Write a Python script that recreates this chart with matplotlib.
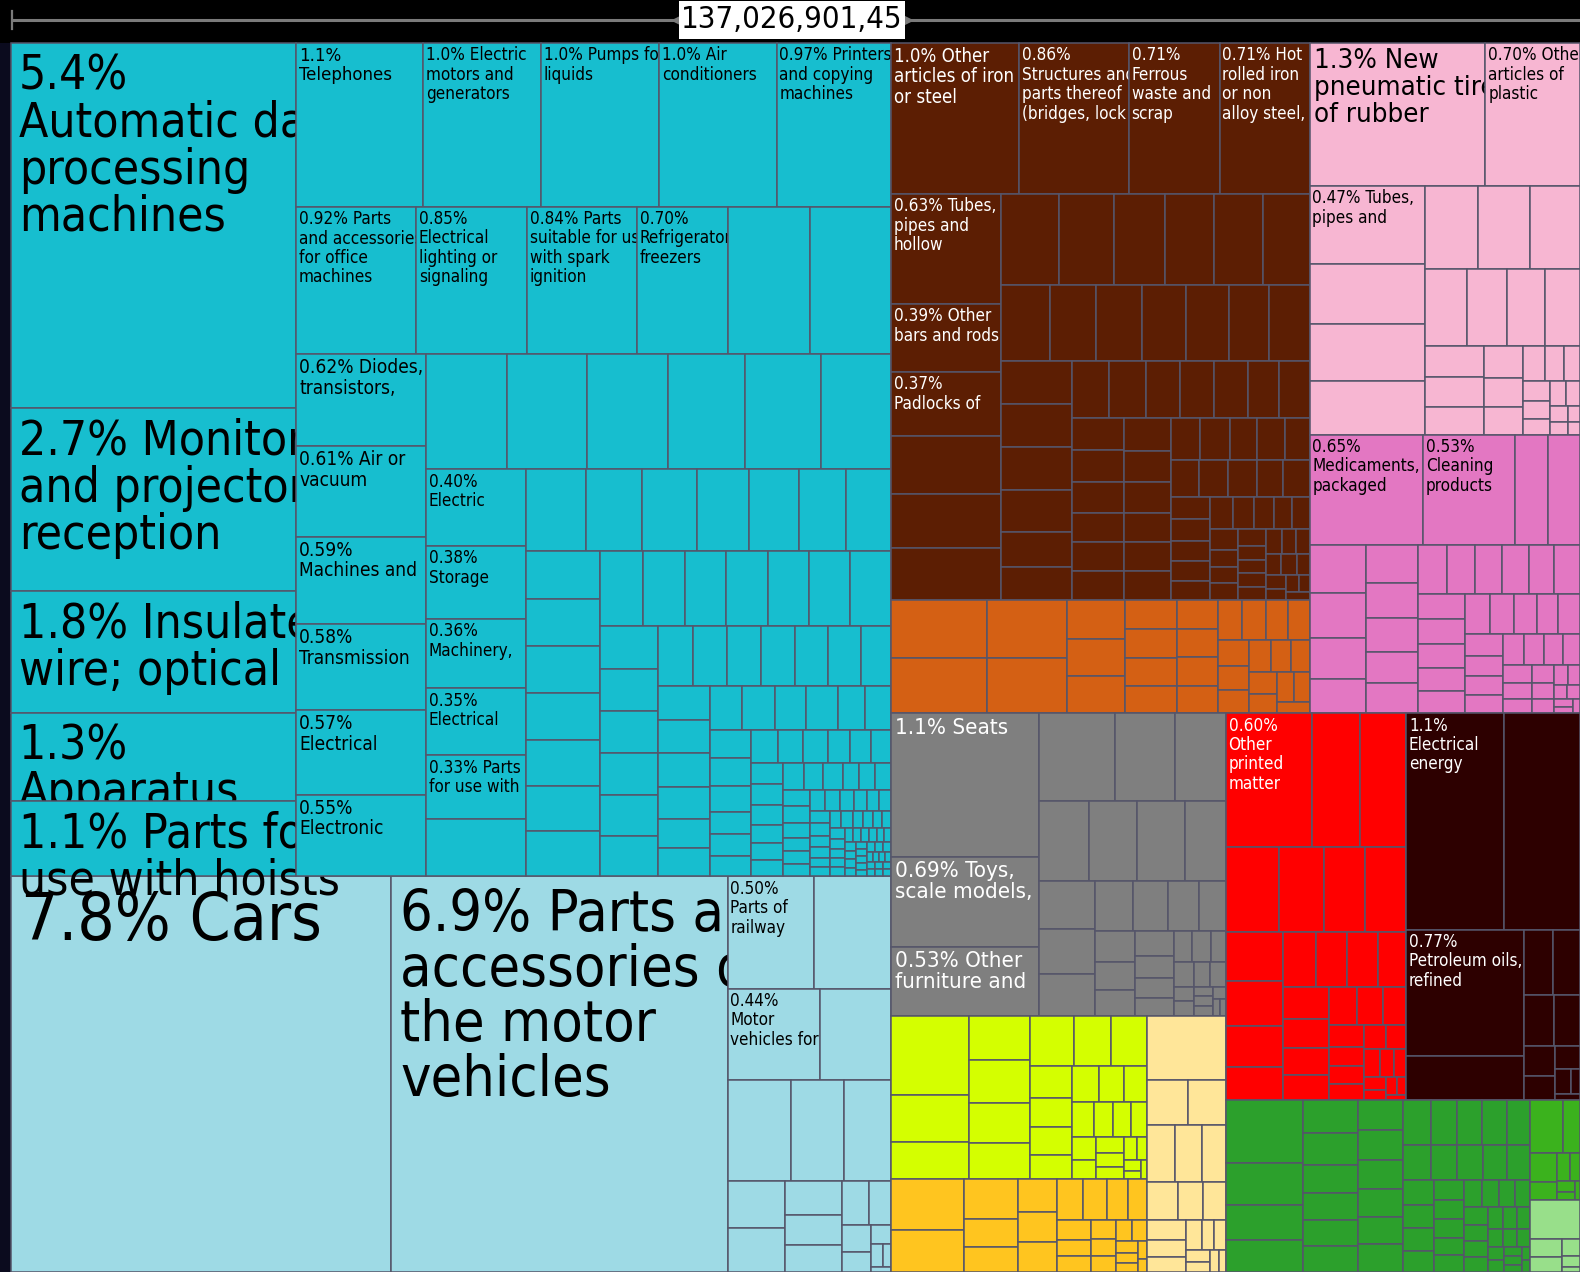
import matplotlib
matplotlib.use("Agg")
import matplotlib.pyplot as plt
from matplotlib.patches import Rectangle

TOTAL_LABEL = "137,026,901,45"

# shares of total exports (%), labelled products first, then the small unlabelled ones
machinery_values = [5.4, 2.7, 1.8, 1.3, 1.12, 1.08, 1.0, 1.0, 1.0, 0.97,
                    0.92, 0.85, 0.84, 0.70, 0.625, 0.622,
                    0.62, 0.61, 0.59, 0.58, 0.57, 0.55,
                    0.48, 0.48, 0.48, 0.46, 0.45, 0.42,
                    0.40, 0.38, 0.36, 0.35, 0.33, 0.30]
machinery_names = ["5.4%\nAutomatic data\nprocessing\nmachines",
                   "2.7% Monitors\nand projectors\nreception",
                   "1.8% Insulated\nwire; optical",
                   "1.3%\nApparatus",
                   "1.1% Parts for\nuse with hoists",
                   "1.1%\nTelephones",
                   "1.0% Electric\nmotors and\ngenerators",
                   "1.0% Pumps for\nliquids",
                   "1.0% Air\nconditioners",
                   "0.97% Printers\nand copying\nmachines",
                   "0.92% Parts\nand accessories\nfor office\nmachines",
                   "0.85%\nElectrical\nlighting or\nsignaling",
                   "0.84% Parts\nsuitable for use\nwith spark\nignition",
                   "0.70%\nRefrigerators,\nfreezers",
                   "", "",
                   "0.62% Diodes,\ntransistors,",
                   "0.61% Air or\nvacuum",
                   "0.59%\nMachines and",
                   "0.58%\nTransmission",
                   "0.57%\nElectrical",
                   "0.55%\nElectronic",
                   "", "", "", "", "", "",
                   "0.40%\nElectric",
                   "0.38%\nStorage",
                   "0.36%\nMachinery,",
                   "0.35%\nElectrical",
                   "0.33% Parts\nfor use with",
                   ""]
machinery_rest = [0.25, 0.24, 0.23, 0.22, 0.21, 0.20, 0.19,
                  0.185, 0.18, 0.18, 0.178, 0.176, 0.175, 0.173,
                  0.166, 0.165, 0.164, 0.163, 0.162, 0.161, 0.16,
                  0.128, 0.127, 0.126, 0.125, 0.124, 0.12,
                  0.108, 0.106, 0.105, 0.104, 0.103, 0.102,
                  0.092, 0.091, 0.09, 0.089, 0.088,
                  0.077, 0.076, 0.075, 0.074, 0.073, 0.072,
                  0.062, 0.061, 0.06, 0.059, 0.058,
                  0.047, 0.046, 0.045, 0.045, 0.044, 0.043,
                  0.036, 0.036, 0.035, 0.035, 0.034, 0.034,
                  0.029, 0.028, 0.028, 0.028, 0.027, 0.027,
                  0.023, 0.022, 0.022, 0.022, 0.022, 0.021,
                  0.018, 0.017, 0.017, 0.017, 0.016, 0.016,
                  0.014, 0.013, 0.013, 0.013, 0.013, 0.012,
                  0.011, 0.010, 0.010, 0.010, 0.010, 0.009,
                  0.009, 0.008, 0.008, 0.008, 0.008, 0.007,
                  0.007, 0.007, 0.006, 0.006, 0.006, 0.006,
                  0.005, 0.005, 0.005, 0.005, 0.005, 0.005,
                  0.004, 0.004, 0.004, 0.004, 0.004, 0.004, 0.004, 0.004,
                  0.003, 0.003, 0.003, 0.003, 0.003, 0.003, 0.003, 0.003, 0.003, 0.003]

transport_values = [7.8, 6.9, 0.50, 0.45, 0.44]
transport_names = ["7.8% Cars",
                   "6.9% Parts and\naccessories of\nthe motor\nvehicles",
                   "0.50%\nParts of\nrailway",
                   "",
                   "0.44%\nMotor\nvehicles for"]
transport_rest = [0.335, 0.33, 0.28, 0.245, 0.14, 0.13, 0.10, 0.09, 0.08,
                  0.06, 0.05, 0.04, 0.03, 0.02, 0.015, 0.01, 0.005]

metals_values = [1.0, 0.86, 0.71, 0.705, 0.63, 0.39, 0.37]
metals_names = ["1.0% Other\narticles of iron\nor steel",
                "0.86%\nStructures and\nparts thereof\n(bridges, lock",
                "0.71%\nFerrous\nwaste and\nscrap",
                "0.71% Hot\nrolled iron\nor non\nalloy steel,",
                "0.63% Tubes,\npipes and\nhollow",
                "0.39% Other\nbars and rods",
                "0.37%\nPadlocks of"]
metals_rest = [0.33, 0.31, 0.30,
               0.27, 0.26, 0.24, 0.23, 0.23, 0.22,
               0.19, 0.185, 0.18, 0.175, 0.17, 0.16,
               0.16, 0.158, 0.156, 0.154, 0.152,
               0.13, 0.12, 0.11, 0.11, 0.10, 0.10, 0.10,
               0.09, 0.09, 0.09, 0.085, 0.085, 0.08, 0.08, 0.08, 0.08,
               0.075, 0.075, 0.07, 0.07, 0.07, 0.065, 0.065,
               0.06, 0.06, 0.055, 0.055, 0.055, 0.055, 0.05, 0.05,
               0.045, 0.045, 0.04, 0.04, 0.04, 0.04, 0.035, 0.035,
               0.03, 0.03, 0.03, 0.025, 0.025, 0.025, 0.025, 0.02, 0.02, 0.02,
               0.02, 0.02, 0.018, 0.018, 0.016, 0.016, 0.014, 0.014,
               0.012, 0.012, 0.01, 0.01]

stone_values = []
stone_names = []
stone_rest = [0.285, 0.275, 0.24, 0.23, 0.115, 0.113, 0.112,
              0.078, 0.077, 0.076, 0.075, 0.06, 0.059, 0.059, 0.058,
              0.05, 0.048, 0.046, 0.044, 0.042, 0.04, 0.038, 0.036,
              0.034, 0.032, 0.03, 0.028, 0.026, 0.024, 0.02]

plastics_values = [1.3, 0.70, 0.47]
plastics_names = ["1.3% New\npneumatic tires\nof rubber",
                  "0.70% Other\narticles of\nplastic",
                  "0.47% Tubes,\npipes and"]
plastics_rest = [0.36, 0.34, 0.32, 0.23, 0.225, 0.215, 0.165, 0.16, 0.15, 0.14,
                 0.095, 0.09, 0.085, 0.065, 0.06, 0.055, 0.04, 0.035, 0.03,
                 0.028, 0.025, 0.022, 0.02, 0.018, 0.015, 0.012, 0.01, 0.008]

chemicals_values = [0.65, 0.53]
chemicals_names = ["0.65%\nMedicaments,\npackaged",
                   "0.53%\nCleaning\nproducts"]
chemicals_rest = [0.185, 0.185, 0.14, 0.13, 0.12, 0.10, 0.1, 0.095, 0.09, 0.085,
                  0.08, 0.075, 0.07, 0.07, 0.068, 0.065, 0.065, 0.062, 0.06,
                  0.06, 0.055, 0.055, 0.052, 0.05, 0.048, 0.045, 0.045,
                  0.042, 0.04, 0.038, 0.036, 0.034, 0.032, 0.03, 0.028, 0.026,
                  0.024, 0.022, 0.02, 0.018, 0.016, 0.014, 0.012, 0.01, 0.01,
                  0.008, 0.006, 0.005]

misc_values = [1.1, 0.69, 0.53]
misc_names = ["1.1% Seats",
              "0.69% Toys,\nscale models,",
              "0.53% Other\nfurniture and"]
misc_rest = [0.343, 0.275, 0.229, 0.21, 0.2, 0.2, 0.17, 0.14, 0.13, 0.12,
             0.1, 0.09, 0.08, 0.07, 0.065, 0.06, 0.055, 0.05, 0.045, 0.04,
             0.035, 0.03, 0.03, 0.025, 0.025, 0.02, 0.02, 0.015, 0.015,
             0.01, 0.01, 0.01, 0.008, 0.006, 0.005]

textiles_values = []
textiles_names = []
textiles_rest = [0.32, 0.19, 0.15, 0.14, 0.135, 0.125, 0.115, 0.115, 0.097,
                 0.094, 0.07, 0.065, 0.06, 0.055, 0.05, 0.046, 0.042, 0.04,
                 0.036, 0.032, 0.03, 0.028, 0.025, 0.022, 0.02, 0.018, 0.015,
                 0.012, 0.01, 0.008, 0.006]

footwear_values = []
footwear_names = []
footwear_rest = [0.19, 0.16, 0.11, 0.08, 0.07, 0.065, 0.06, 0.06, 0.055, 0.05,
                 0.045, 0.04, 0.035, 0.03, 0.028, 0.025, 0.022, 0.02, 0.018,
                 0.016, 0.014, 0.012, 0.01, 0.008, 0.006]

hides_values = []
hides_names = []
hides_rest = [0.26, 0.097, 0.088, 0.083, 0.08, 0.07, 0.06, 0.05, 0.045, 0.04,
              0.035, 0.03, 0.025, 0.02, 0.018, 0.015, 0.012, 0.01, 0.008]

paper_values = [0.60]
paper_names = ["0.60%\nOther\nprinted\nmatter"]
paper_rest = [0.33, 0.32, 0.233, 0.2, 0.18, 0.18, 0.145, 0.135, 0.12, 0.1,
              0.095, 0.09, 0.09, 0.08, 0.075, 0.07, 0.065, 0.06, 0.055, 0.05,
              0.045, 0.04, 0.036, 0.032, 0.03, 0.028, 0.025, 0.022, 0.02,
              0.018, 0.015, 0.012, 0.01, 0.008, 0.006]

minerals_values = [1.1, 0.85, 0.77]
minerals_names = ["1.1%\nElectrical\nenergy", "", "0.77%\nPetroleum oils,\nrefined"]
minerals_rest = [0.27, 0.1, 0.09, 0.08, 0.07, 0.05, 0.04, 0.03, 0.02, 0.012, 0.008]

vegetables_values = []
vegetables_names = []
vegetables_rest = [0.25, 0.17, 0.14, 0.13, 0.092, 0.09, 0.08, 0.075, 0.075,
                   0.072, 0.07, 0.07, 0.07, 0.065, 0.065, 0.065, 0.063, 0.06,
                   0.058, 0.056, 0.054, 0.05, 0.048, 0.046, 0.044, 0.042, 0.04,
                   0.038, 0.036, 0.034, 0.032, 0.03, 0.029, 0.028, 0.026, 0.025,
                   0.024, 0.023, 0.022, 0.021, 0.02, 0.019, 0.018, 0.017, 0.016,
                   0.015, 0.014, 0.013, 0.012, 0.011, 0.01, 0.009, 0.008, 0.007,
                   0.006, 0.005]

foodstuffs_values = []
foodstuffs_names = []
foodstuffs_rest = [0.09, 0.045, 0.04, 0.025, 0.02, 0.015, 0.01, 0.008, 0.005]

animals_values = []
animals_names = []
animals_rest = [0.1, 0.03, 0.025, 0.015, 0.01, 0.005]

GROUPS = {
    "machinery": (machinery_values, machinery_names, machinery_rest, "#17becf", "black"),
    "transport": (transport_values, transport_names, transport_rest, "#9edae5", "black"),
    "metals": (metals_values, metals_names, metals_rest, "#5c1e03", "white"),
    "stone": (stone_values, stone_names, stone_rest, "#d46014", "white"),
    "plastics": (plastics_values, plastics_names, plastics_rest, "#f7b6d2", "black"),
    "chemicals": (chemicals_values, chemicals_names, chemicals_rest, "#e377c2", "black"),
    "misc": (misc_values, misc_names, misc_rest, "#7f7f7f", "white"),
    "textiles": (textiles_values, textiles_names, textiles_rest, "#d4ff00", "black"),
    "footwear": (footwear_values, footwear_names, footwear_rest, "#ffc51f", "black"),
    "hides": (hides_values, hides_names, hides_rest, "#ffe699", "black"),
    "paper": (paper_values, paper_names, paper_rest, "#ff0000", "white"),
    "minerals": (minerals_values, minerals_names, minerals_rest, "#2d0000", "white"),
    "vegetables": (vegetables_values, vegetables_names, vegetables_rest, "#2ca02c", "black"),
    "foodstuffs": (foodstuffs_values, foodstuffs_names, foodstuffs_rest, "#3bb21d", "black"),
    "animals": (animals_values, animals_names, animals_rest, "#98df8a", "black"),
}

# how the sections are nested: "h" = side by side, "v" = stacked
LAYOUT = ("h", [
    ("v", ["machinery", "transport"]),
    ("v", [
        ("h", [("v", ["metals", "stone"]), ("v", ["plastics", "chemicals"])]),
        ("h", [
            ("v", ["misc", ("h", [("v", ["textiles", "footwear"]), "hides"])]),
            ("v", [("h", ["paper", "minerals"]),
                   ("h", ["vegetables", ("v", ["foodstuffs", "animals"])])]),
        ]),
    ]),
])

DRAW_ORDER = ["transport", "machinery", "metals", "stone", "plastics", "chemicals",
              "misc", "textiles", "footwear", "hides", "paper", "minerals",
              "vegetables", "foodstuffs", "animals"]

W, H = 1580, 1272
X0, Y0, X1, Y1 = 11, 43, 1580, 1272
EDGE = "#55556a"
PHI = (1 + 5 ** 0.5) / 2


def group_total(name):
    vals, _, rest, _, _ = GROUPS[name]
    return sum(vals) + sum(rest)


def node_total(node):
    if isinstance(node, str):
        return group_total(node)
    return sum(node_total(k) for k in node[1])


def split(node, x0, y0, x1, y1, out):
    if isinstance(node, str):
        out[node] = (x0, y0, x1, y1)
        return
    kind, kids = node
    totals = [node_total(k) for k in kids]
    s = sum(totals)
    pos = x0 if kind == "h" else y0
    for k, t in zip(kids, totals):
        if kind == "h":
            nxt = pos + (x1 - x0) * t / s
            split(k, pos, y0, nxt, y1, out)
        else:
            nxt = pos + (y1 - y0) * t / s
            split(k, x0, pos, x1, nxt, out)
        pos = nxt


def squarify(values, x0, y0, x1, y1):
    # d3-style squarified layout with golden ratio target
    rects = []
    n = len(values)
    remaining = sum(values)
    i0 = 0
    while i0 < n:
        dx, dy = x1 - x0, y1 - y0
        i1 = i0 + 1
        s = values[i0]
        vmin = vmax = s
        alpha = max(dy / dx, dx / dy) / (remaining * PHI)
        beta = s * s * alpha
        best = max(vmax / beta, beta / vmin)
        while i1 < n:
            v = values[i1]
            s2 = s + v
            mn, mx = min(vmin, v), max(vmax, v)
            beta = s2 * s2 * alpha
            r = max(mx / beta, beta / mn)
            if r > best:
                break
            s, vmin, vmax, best = s2, mn, mx, r
            i1 += 1
        row = values[i0:i1]
        if dx < dy:
            yb = y1 if i1 == n else y0 + dy * s / remaining
            xx = x0
            for v in row:
                w = dx * v / s
                rects.append((xx, y0, xx + w, yb))
                xx += w
            y0 = yb
        else:
            xb = x1 if i1 == n else x0 + dx * s / remaining
            yy = y0
            for v in row:
                h = dy * v / s
                rects.append((x0, yy, xb, yy + h))
                yy += h
            x0 = xb
        remaining -= s
        i0 = i1
    return rects


fig = plt.figure(figsize=(W / 100, H / 100), dpi=100, facecolor="black")
ax = fig.add_axes([0, 0, 1, 1])
ax.set_xlim(0, W)
ax.set_ylim(H, 0)
ax.axis("off")

# dark strip at the left edge
ax.add_patch(Rectangle((0, Y0), X0, H - Y0, facecolor="#0b0b1e", edgecolor="none", zorder=1))

boxes = {}
split(LAYOUT, X0, Y0, X1, Y1, boxes)

z = 2
for name in DRAW_ORDER:
    vals, names, rest, face, tcol = GROUPS[name]
    items = sorted(zip(vals + rest, names + [""] * len(rest)), key=lambda t: -t[0])
    rects = squarify([v for v, _ in items], *boxes[name])
    for (v, lab), (rx0, ry0, rx1, ry1) in zip(items, rects):
        ax.add_patch(Rectangle((rx0, ry0), rx1 - rx0, ry1 - ry0, facecolor=face,
                               edgecolor=EDGE, linewidth=1.1, zorder=z))
        z += 1
        if lab:
            # label size follows the cell width
            em = max(17.0, 0.186 * (rx1 - rx0) - 5.2)
            ls = 1.1 if em < 22 else (1.04 if em < 30 else 1.0)
            ax.text(rx0 + 0.16 * em, ry0 + 0.2 * em, lab, ha="left", va="top",
                    fontsize=em * 0.72, color=tcol, family="DejaVu Sans",
                    fontstretch="condensed", linespacing=ls, zorder=z)
            z += 1

# scale line with total value on top
ax.plot([12, 678], [20, 20], color="#7a7a7a", lw=2.2, solid_capstyle="butt", zorder=z)
ax.plot([906, W], [20, 20], color="#7a7a7a", lw=2.2, solid_capstyle="butt", zorder=z)
ax.plot([12, 12], [11, 29], color="#7a7a7a", lw=1.6, zorder=z)
ax.plot([676], [20], marker="<", color="#7a7a7a", markersize=6, zorder=z)
ax.plot([908], [20], marker=">", color="#7a7a7a", markersize=6, zorder=z)
ax.add_patch(Rectangle((679, 1), 226, 38, facecolor="white", edgecolor="none", zorder=z + 1))
ax.text(792, 20, TOTAL_LABEL, ha="center", va="center", fontsize=31 * 0.72,
        color="black", family="DejaVu Sans", fontstretch="condensed", zorder=z + 2)

fig.savefig("out.png", dpi=100, facecolor="black")
